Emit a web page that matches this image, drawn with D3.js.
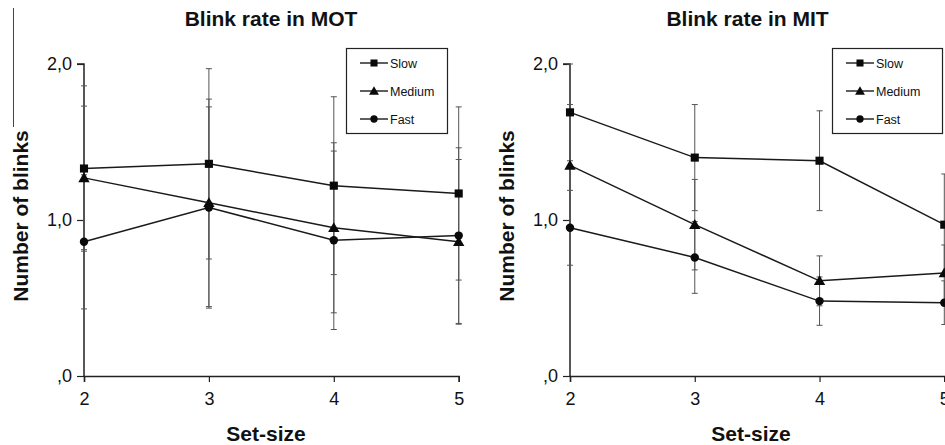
<!DOCTYPE html>
<html>
<head>
<meta charset="utf-8">
<script src="https://cdn.jsdelivr.net/npm/d3@7"></script>
<style>
  html, body { margin: 0; padding: 0; background: #fff; }
  svg { display: block; }
  text { font-family: Arial, "Liberation Sans", sans-serif; fill: #111; }
</style>
</head>
<body>
<script>
// Data
const setSizes = [2, 3, 4, 5];
const yTicks = [0, 1, 2];
const yTickLabels = [',0', '1,0', '2,0'];
const seriesNames = ['Slow', 'Medium', 'Fast'];

// MOT panel
const motSlow = [1.33, 1.36, 1.22, 1.17];
const motSlowErr = [0.53, 0.61, 0.57, 0.555];
const motMedium = [1.27, 1.11, 0.95, 0.86];
const motMediumErr = [0.46, 0.665, 0.545, 0.528];
const motFast = [0.86, 1.08, 0.87, 0.90];
const motFastErr = [0.43, 0.645, 0.572, 0.563];

// MIT panel
const mitSlow = [1.69, 1.40, 1.38, 0.97];
const mitSlowErr = [0.31, 0.34, 0.32, 0.325];
const mitMedium = [1.35, 0.97, 0.61, 0.66];
const mitMediumErr = [0.39, 0.29, 0.16, 0.18];
const mitFast = [0.95, 0.76, 0.48, 0.47];
const mitFastErr = [0.24, 0.23, 0.155, 0.14];

const W = 945, H = 445;

const svg = d3.select('body')
    .append('svg')
    .attr('width', W)
    .attr('height', H)
    .attr('xmlns', 'http://www.w3.org/2000/svg');

// thin border remnant at top left of the scan
svg.append('line')
    .attr('x1', 13.5).attr('x2', 13.5)
    .attr('y1', 8).attr('y2', 127)
    .attr('stroke', '#444').attr('stroke-width', 1);

const symbols = [d3.symbolSquare, d3.symbolTriangle, d3.symbolCircle];
const symbolSizes = [66, 56, 56];

function drawPanel(p) {
    const { title, series, errors, x0, x1, titleX, labelX, legendX, legendW } = p;

    const xScale = d3.scaleLinear().domain([2, 5]).range([x0, x1]);
    const yScale = d3.scaleLinear().domain([0, 2]).range([376, 64]);

    const g = svg.append('g');

    // Título
    g.append('text')
        .attr('x', titleX)
        .attr('y', 26)
        .attr('text-anchor', 'middle')
        .style('font-size', '21px')
        .style('font-weight', 'bold')
        .text(title);

    // Ejes
    const yAxis = g.append('g')
        .attr('transform', `translate(${x0},0)`)
        .call(d3.axisLeft(yScale).tickValues(yTicks)
            .tickFormat((d, i) => yTickLabels[i]).tickSize(7).tickPadding(5));

    const xAxis = g.append('g')
        .attr('transform', 'translate(0,376)')
        .call(d3.axisBottom(xScale).tickValues(setSizes)
            .tickFormat(d3.format('d')).tickSize(6).tickPadding(10));

    [yAxis, xAxis].forEach(ax => {
        ax.select('.domain').attr('stroke', '#222').attr('stroke-width', 1.5);
        ax.selectAll('.tick line').attr('stroke', '#222').attr('stroke-width', 1.2);
        ax.selectAll('.tick text')
            .style('font-family', 'Arial, "Liberation Sans", sans-serif')
            .style('font-size', '18px')
            .attr('fill', '#111');
    });
    yAxis.select('.domain').attr('d', `M-7,${yScale(2)}H0V${yScale(0)}`);

    // Etiquetas de ejes
    g.append('text')
        .attr('transform', `translate(${x0 - 56},${216}) rotate(-90)`)
        .attr('text-anchor', 'middle')
        .style('font-size', '21px')
        .style('font-weight', 'bold')
        .text('Number of blinks');

    g.append('text')
        .attr('x', labelX)
        .attr('y', 441)
        .attr('text-anchor', 'middle')
        .style('font-size', '21px')
        .style('font-weight', 'bold')
        .text('Set-size');

    // Barras de error
    series.forEach((vals, s) => {
        const err = errors[s];
        const eg = g.append('g').attr('stroke', '#555').attr('stroke-width', 1);
        vals.forEach((v, i) => {
            const cx = xScale(setSizes[i]);
            const top = yScale(Math.min(2, v + err[i]));
            const bot = yScale(v - err[i]);
            eg.append('line').attr('x1', cx).attr('x2', cx).attr('y1', top).attr('y2', bot);
            eg.append('line').attr('x1', cx - 3).attr('x2', cx + 3).attr('y1', top).attr('y2', top);
            eg.append('line').attr('x1', cx - 3).attr('x2', cx + 3).attr('y1', bot).attr('y2', bot);
        });
    });

    // Líneas y marcadores
    const line = d3.line()
        .x((d, i) => xScale(setSizes[i]))
        .y(d => yScale(d));

    series.forEach((vals, s) => {
        g.append('path')
            .datum(vals)
            .attr('fill', 'none')
            .attr('stroke', '#1a1a1a')
            .attr('stroke-width', 1.5)
            .attr('d', line);

        g.selectAll(null)
            .data(vals)
            .enter()
            .append('path')
            .attr('transform', (d, i) => `translate(${xScale(setSizes[i])},${yScale(d) + (s === 1 ? 1 : 0)})`)
            .attr('d', d3.symbol().type(symbols[s]).size(symbolSizes[s]))
            .attr('fill', '#0a0a0a');
    });

    // Leyenda
    const lg = g.append('g').attr('transform', `translate(${legendX},48)`);
    lg.append('rect')
        .attr('x', 0.5).attr('y', 0.5)
        .attr('width', legendW).attr('height', 85)
        .attr('fill', '#fff')
        .attr('stroke', '#222')
        .attr('stroke-width', 1.2);

    seriesNames.forEach((name, s) => {
        const ry = 15 + s * 28;
        lg.append('line')
            .attr('x1', 14).attr('x2', 42)
            .attr('y1', ry).attr('y2', ry)
            .attr('stroke', '#1a1a1a').attr('stroke-width', 1.4);
        lg.append('path')
            .attr('transform', `translate(28,${ry + (s === 1 ? 1 : 0)})`)
            .attr('d', d3.symbol().type(symbols[s]).size(symbolSizes[s] * 0.75))
            .attr('fill', '#0a0a0a');
        lg.append('text')
            .attr('x', 44)
            .attr('y', ry + 4.5)
            .style('font-size', '12.5px')
            .text(name);
    });
}

drawPanel({
    title: 'Blink rate in MOT',
    series: [motSlow, motMedium, motFast],
    errors: [motSlowErr, motMediumErr, motFastErr],
    x0: 84, x1: 458.7,
    titleX: 271, labelX: 266,
    legendX: 346, legendW: 101
});

drawPanel({
    title: 'Blink rate in MIT',
    series: [mitSlow, mitMedium, mitFast],
    errors: [mitSlowErr, mitMediumErr, mitFastErr],
    x0: 570, x1: 944.3,
    titleX: 747.5, labelX: 751,
    legendX: 832, legendW: 110
});
</script>
</body>
</html>
